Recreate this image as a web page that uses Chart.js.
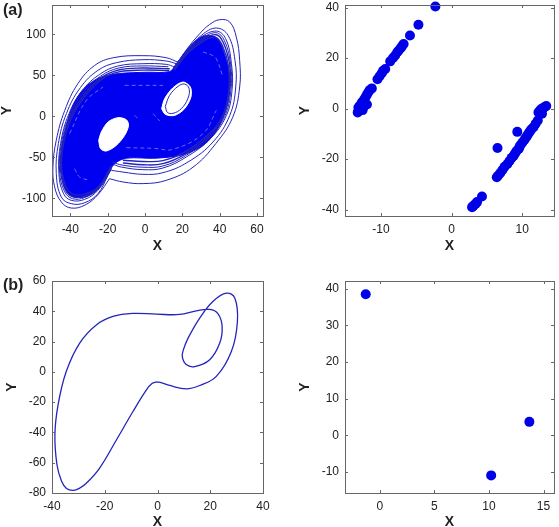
<!DOCTYPE html>
<html>
<head>
<meta charset="utf-8">
<title>Attractors and sections</title>
<script src="https://cdn.jsdelivr.net/npm/chart.js@4/dist/chart.umd.min.js"></script>
<style>
    html, body { margin: 0; padding: 0; background: #fff; }
    body { position: relative; width: 559px; height: 527px; overflow: hidden; }
    canvas { position: absolute; }
    .tag { position: absolute; left: 3px; font: bold 16px "Liberation Sans", Arial, sans-serif; color: #222; }
</style>
</head>
<body>
<canvas id="panelA" width="280" height="262" style="left:0;top:0"></canvas>
<canvas id="panelB" width="279" height="262" style="left:280px;top:0"></canvas>
<canvas id="panelC" width="280" height="262" style="left:0;top:265px"></canvas>
<canvas id="panelD" width="279" height="262" style="left:280px;top:265px"></canvas>
<div class="tag" style="top:1px">(a)</div>
<div class="tag" style="top:276px">(b)</div>
<script>
// tick labels
const ticksAX = [-40, -20, 0, 20, 40, 60];
const ticksAY = [-100, -50, 0, 50, 100];
const ticksBX = [-10, 0, 10];
const ticksBY = [-40, -20, 0, 20, 40];
const ticksCX = [-40, -20, 0, 20, 40];
const ticksCY = [-80, -60, -40, -20, 0, 20, 40, 60];
const ticksDX = [0, 5, 10, 15];
const ticksDY = [-10, 0, 10, 20, 30, 40];

// panel (a), chaotic attractor: solid region, holes, outer orbits
const denseBody = [[-45,-61.8],[-44.4,-37.4],[-41.8,-8.9],[-38.2,15.4],[-32.8,33.7],[-24.6,46.9],[-13.8,52.2],[0.7,53.8],[13.2,54.6],[16.8,64.2],[23.9,84.6],[31.1,97.7],[38.4,96],[42.8,74],[45.4,48],[44.2,15.4],[39,-15],[31.8,-34.3],[20.8,-46.5],[6.1,-51],[-10,-51],[-16.3,-57.7],[-20.7,-74],[-27,-92.3],[-34.1,-99],[-40.8,-95],[-43.6,-82],[-45,-61.8]];
const lowerHole = [[-24.8,-29.3],[-23.4,-19.1],[-19.8,-6.9],[-14.5,-1.6],[-10,-4.1],[-8.8,-11],[-10.9,-23.2],[-15.4,-35.4],[-20.7,-42.3],[-23.8,-39.4],[-24.8,-29.3]];
const upperHole = [[8.9,9.3],[10.5,21.5],[15,34.9],[20.4,41.9],[24.3,35.8],[24.6,23.6],[21.2,9.3],[15.9,1.2],[10.9,2.4],[8.9,9.3]];
const upperRing = [[10.9,12.2],[13.2,25.6],[17.7,36.6],[21.2,39.4],[23.6,34],[23,21.9],[19.4,9.3],[15,3.7],[12,4.9],[10.9,12.2]];
const orbitR0 = [[15,56],[22,80.5],[29.3,100.8],[34.6,112],[40,117.9],[45.4,115],[48.9,96.7],[50.7,68.3],[50.7,35.8],[47,-1],[38,-33],[25.7,-62],[11.4,-78],[-1,-82],[-11.8,-80],[-19,-76]];
const orbitR1 = [[15.9,58.1],[23,80.5],[30.2,98.8],[38.2,107.7],[44.5,98.8],[48.2,68.3],[48.6,35.8],[45.4,1.2],[36.4,-31.3],[23,-55.7],[9.6,-68.7],[-1.1,-70.7],[-11.8,-67.9],[-18,-65.8]];
const orbitR2 = [[15.9,60],[22.6,82],[29.5,96],[38.2,104],[43.2,94.7],[46.3,64.2],[46.6,31.7],[43.6,1.2],[35,-27.2],[22.1,-49.6],[9.6,-63],[-1.1,-65],[-12.7,-61.8],[-17.1,-58.5]];
const orbitR3 = [[16,58],[22.5,78],[30,92.5],[37.9,99.6],[41.8,90.7],[45.4,62.2],[45.4,31.7],[41.8,-0.8],[33.8,-25.2],[21.3,-46.3],[9.6,-57.7],[-1.1,-59],[-11.8,-56.9]];
const orbitR4 = [[16,57],[22.5,76],[30,90],[37.5,96.5],[41.5,86],[44.8,60],[44.8,30],[41,-2],[33,-24],[21,-44],[9.6,-54],[-1.1,-55],[-11.8,-53.5]];
const orbitR5 = [[16,59],[22.5,80],[29.8,94],[38,102],[42.5,92.5],[45.9,63],[46,31.7],[42.7,0],[34.4,-26],[21.7,-48],[9.6,-60.5],[-1.1,-62],[-12,-59.5],[-17.5,-56]];
const orbitL0 = [[-19,-76],[-25,-95],[-32,-108],[-39.5,-111.8],[-44.8,-104.5],[-48.4,-86],[-49.3,-62],[-47.5,-29],[-43,7],[-35.9,40],[-27,62],[-17,71.5],[-1,74],[11.4,71.5],[17.7,66]];
const orbitL1 = [[-19.8,-72],[-25.2,-94.3],[-32.3,-105.3],[-39.5,-106.5],[-44.8,-98.4],[-47.5,-69.9],[-46.4,-33.3],[-42.1,3.3],[-34.6,35],[-25.2,56.1],[-15.4,65.4],[-1.1,69.1],[11.4,67.5],[16.8,64.2]];
const orbitL2 = [[-18.9,-67.9],[-25.2,-90.2],[-32.3,-101.2],[-39.5,-102.4],[-43.6,-94.3],[-46.1,-69.9],[-45.2,-33.3],[-40.7,3.3],[-33.2,32.5],[-24.3,51.2],[-14.5,61.4],[-1.1,64.2],[11.4,63.4],[15.9,60.2]];
const orbitL3 = [[-18,-63.8],[-25.2,-88.2],[-32.3,-97.2],[-38.2,-98.4],[-42.5,-90.2],[-45.2,-65.9],[-44.3,-33.3],[-40,-0.8],[-32.3,27.6],[-23.4,47.2],[-13.6,56.9],[-1.1,58.9],[13.2,58.1]];
const orbitL4 = [[-18,-60],[-25,-86],[-32,-94.5],[-37.8,-95.5],[-41.8,-88],[-44.6,-64],[-43.6,-33],[-39.2,-1],[-31.6,26],[-23,45.5],[-13.4,54.5],[-1,56.4],[13,56]];
const orbitL5 = [[-18.4,-66],[-25.2,-89],[-32.3,-99],[-38.8,-100.4],[-43,-92],[-45.7,-68],[-44.8,-33.3],[-40.4,1],[-32.8,30],[-23.8,49],[-14,59],[-1.1,61.5],[12.5,60.5]];
const streakTop = [[-10.9,37.8],[-1,37.8],[9.6,37.8]];
const streakBottom = [[-10,-38.2],[5,-39],[15,-40.2],[31.1,-21],[38.2,7.3]];
const streakLeft = [[-37.7,-63.8],[-35,-74],[-29.6,-78]];
const streakRight = [[31.1,78.5],[36,74.5],[38.2,70.3],[41.8,48]];
const streakMidA = [[-5.5,1.2],[-2.9,-4.9]];
const streakMidB = [[4.3,3.3],[7.9,-5.7]];
const streakWest = [[-40.4,-21],[-31.4,19.5],[-22.5,35.8]];

// panel (a) section
const sectionA = [[-2.3,40.4],[-4.7,33.2],[-5.9,28.9],[-6.8,25.6],[-7,24.8],[-7.2,24],[-7.5,23],[-7.7,22.3],[-8,21],[-8.3,20],[-8.7,18.7],[-9.4,15.7],[-9.7,15],[-9.9,14],[-10.2,12.8],[-10.5,11.6],[-11.3,8],[-11.6,7.3],[-11.8,6.5],[-12,5.5],[-12.2,4.5],[-12.4,3.5],[-12.7,2.5],[-13,1.2],[-13.2,0.4],[-13.1,-0.8],[-13.3,-1.5],[-12.6,-0.6],[-12,1.6],[-12.5,0.5],[-12.9,-0.1],
    [13.4,1],[13.2,0.6],[13,0.3],[12.7,-0.2],[12.5,-0.8],[12.3,-1.5],[12.8,-2],[12.2,-4.7],[11.9,-6],[11.6,-7.4],[11.3,-8.2],[11.1,-9],[10.9,-9.8],[10.7,-10.7],[10.5,-11.5],[10.3,-12.4],[10,-13.5],[9.7,-14.6],[9.6,-15.3],[9.5,-16],[9.2,-16.8],[9,-17.7],[8.8,-18.6],[8.5,-19.5],[8.2,-20.7],[7.9,-21.9],[7.5,-23],[7.2,-24.3],[6.9,-25.5],[6.6,-26.5],[6.4,-27.2],[9.3,-9.2],[6.5,-15.6],[4.3,-34.8],[3.6,-37],[3.4,-37.7],[3.1,-38.4],[2.9,-39]];

// panel (b), periodic orbit
const periodicOrbit = [[-0.4,-6.6],[-2,-7.6],[-4.2,-11.9],[-9.3,-26.2],[-15.6,-45],[-22,-63.7],[-27,-73.6],[-29.5,-76.8],[-32,-78.3],[-34.5,-77],[-36.4,-72],[-38.1,-61.5],[-38.9,-41.7],[-37.7,-21.8],[-34.6,0.2],[-29.5,19],[-23.2,31],[-16.9,36.6],[-9.3,38.6],[-0.4,38.1],[8.4,37.9],[14.7,40.3],[19.8,41.2],[22.9,38.4],[24.5,30],[23.6,19],[19.8,8],[14.1,3.5],[10.9,4.8],[9.4,10],[9.9,15],[11.6,22.3],[16,35.5],[21,46.5],[26.1,52],[29.3,48.7],[30.3,33.3],[28,13.4],[22.3,-3],[16,-9],[10.9,-11.2],[4.6,-9],[1.6,-7.2],[-0.4,-6.6]];

// panel (b) section
const sectionB = [[-1.3,38.5],[13.7,3.7],[10.2,-10.9]];

const toXY = pts => pts.map(p => ({ x: p[0], y: p[1] }));
const FONT = '"Liberation Sans", Arial, sans-serif';
const LINE_BLUE = '#2424bc';
const FILL_BLUE = '#0000f0';
const MARK_BLUE = '#0000e8';

const orbit = (pts, width = 1) => ({ data: toXY(pts), showLine: true, pointRadius: 0, borderColor: LINE_BLUE, borderWidth: width, tension: 0.4, fill: false });
const streak = pts => ({ data: toXY(pts), showLine: true, pointRadius: 0, borderColor: '#6a6ae8', borderWidth: 1, borderDash: [4, 3], tension: 0.4, fill: false });
const area = (pts, color) => ({ data: toXY(pts), showLine: true, pointRadius: 0, borderColor: color, backgroundColor: color, borderWidth: 1, tension: 0.3, fill: 'shape' });
const dots = pts => ({ data: toXY(pts), showLine: false, clip: false, pointRadius: 5, pointHoverRadius: 5, pointBackgroundColor: MARK_BLUE, pointBorderColor: MARK_BLUE, pointBorderWidth: 0 });

// gnuplot style frame: grey box with short inward ticks on all four sides
const framePlugin = {
    id: 'frame',
    afterDatasetsDraw(chart) {
        const { ctx, chartArea: a, scales } = chart;
        const len = 3;
        ctx.save();
        ctx.strokeStyle = '#666';
        ctx.lineWidth = 1;
        ctx.strokeRect(Math.round(a.left) + 0.5, Math.round(a.top) + 0.5, Math.round(a.right - a.left), Math.round(a.bottom - a.top));
        ctx.beginPath();
        scales.x.ticks.forEach(t => {
            const px = Math.round(scales.x.getPixelForValue(t.value)) + 0.5;
            ctx.moveTo(px, a.bottom); ctx.lineTo(px, a.bottom - len);
            ctx.moveTo(px, a.top); ctx.lineTo(px, a.top + len);
        });
        scales.y.ticks.forEach(t => {
            const py = Math.round(scales.y.getPixelForValue(t.value)) + 0.5;
            ctx.moveTo(a.left, py); ctx.lineTo(a.left + len, py);
            ctx.moveTo(a.right, py); ctx.lineTo(a.right - len, py);
        });
        ctx.stroke();
        ctx.restore();
    }
};

const makeAxis = (name, min, max, tickValues, box, titlePad) => ({
    type: 'linear',
    min: min,
    max: max,
    grid: { display: false, drawTicks: false },
    border: { display: false },
    afterBuildTicks: scale => { scale.ticks = tickValues.map(v => ({ value: v })); },
    afterFit: scale => {
        if (name === 'X') scale.height = box; else scale.width = box;
        // tick labels may hang past the plot, the frame stays where the padding puts it
        scale.paddingTop = scale.paddingBottom = scale.paddingLeft = scale.paddingRight = 0;
    },
    ticks: {
        autoSkip: false,
        maxRotation: 0,
        padding: 6,
        color: '#222',
        font: { family: FONT, size: 12 },
        callback: v => v
    },
    title: {
        display: true,
        text: name,
        color: '#222',
        font: { family: FONT, size: 14, weight: 'bold', lineHeight: 1 },
        padding: name === 'X' ? { top: 0, bottom: titlePad } : { top: titlePad, bottom: 0 }
    }
});

const makeChart = (id, datasets, xAxis, yAxis, padding) => new Chart(document.getElementById(id), {
    type: 'scatter',
    data: { datasets: datasets },
    plugins: [framePlugin],
    options: {
        responsive: false,
        animation: false,
        layout: { padding: padding },
        plugins: { legend: { display: false }, tooltip: { enabled: false } },
        scales: { x: xAxis, y: yAxis }
    }
});

// first dataset paints last, so orbits go first and the filled body last
makeChart('panelA', [
    orbit(upperRing), area(upperHole, '#ffffff'), area(lowerHole, '#ffffff'),
    streak(streakTop), streak(streakBottom), streak(streakLeft), streak(streakRight), streak(streakMidA), streak(streakMidB), streak(streakWest),
    orbit(orbitR0), orbit(orbitR1), orbit(orbitR2), orbit(orbitR3, 1.4), orbit(orbitR4, 1.4), orbit(orbitR5),
    orbit(orbitL0), orbit(orbitL1), orbit(orbitL2), orbit(orbitL3, 1.4), orbit(orbitL4, 1.4), orbit(orbitL5),
    area(denseBody, FILL_BLUE)
], makeAxis('X', -49.8, 63.2, ticksAX, 46, 9), makeAxis('Y', -121.5, 135.8, ticksAY, 52, 0), { top: 5, right: 17 });

makeChart('panelB', [dots(sectionA)],
    makeAxis('X', -15.1, 14.5, ticksBX, 46, 9), makeAxis('Y', -42.5, 41, ticksBY, 65, 18), { top: 5, right: 3 });

makeChart('panelC', [orbit(periodicOrbit, 1.3)],
    makeAxis('X', -40, 40, ticksCX, 34, -2), makeAxis('Y', -80, 60, ticksCY, 52, 5), { top: 16, right: 17 });

makeChart('panelD', [dots(sectionB)],
    makeAxis('X', -3.2, 15.96, ticksDX, 34, -2), makeAxis('Y', -15.7, 42.1, ticksDY, 65, 18), { top: 16, right: 3 });
</script>
</body>
</html>
